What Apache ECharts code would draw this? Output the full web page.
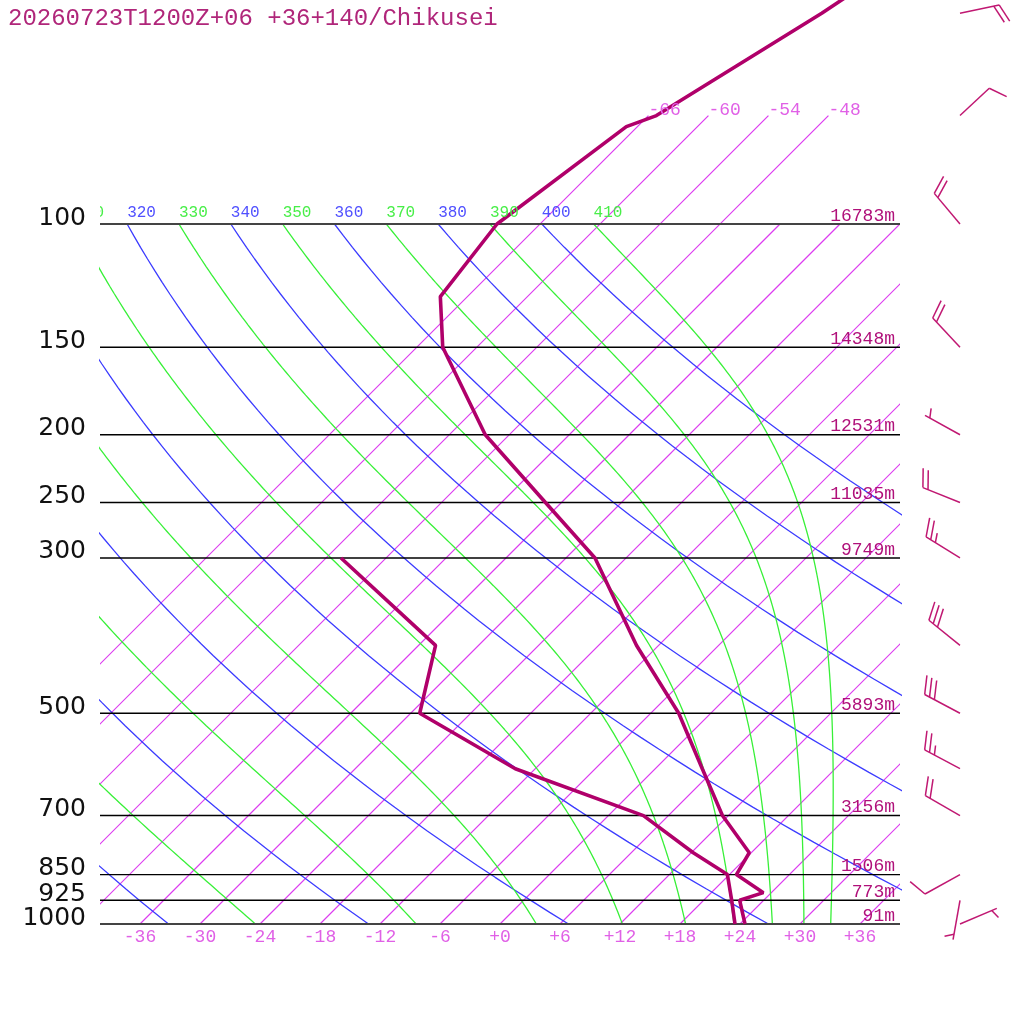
<!DOCTYPE html>
<html>
<head>
<meta charset="utf-8">
<script src="https://cdn.jsdelivr.net/npm/echarts@6/dist/echarts.min.js"></script>
<style>html,body{margin:0;padding:0;background:#fff;}#c{width:1024px;height:1024px;}</style>
</head>
<body>
<div id="c"></div>
<script>
// ---------------- data ----------------
const titleText = '20260723T1200Z+06 +36+140/Chikusei';
const pressureLevels = [1000, 925, 850, 700, 500, 300, 250, 200, 150, 100];
const pressureLabels = ['1000', '925', '850', '700', '500', '300', '250', '200', '150', '100'];
const heightLabels = ['91m', '773m', '1506m', '3156m', '5893m', '9749m', '11035m', '12531m', '14348m', '16783m'];
const isotherms = [-66, -60, -54, -48, -42, -36, -30, -24, -18, -12, -6, 0, 6, 12, 18, 24, 30, 36];
const isothermTopLabels = ['-66', '-60', '-54', '-48'];
const isothermTopValues = [-66, -60, -54, -48];
const tickValues = [-36, -30, -24, -18, -12, -6, 0, 6, 12, 18, 24, 30, 36];
const tickLabels = ['-36', '-30', '-24', '-18', '-12', '-6', '+0', '+6', '+12', '+18', '+24', '+30', '+36'];
const dryThetas = [240, 260, 280, 300, 320, 340, 360, 380, 400];
const moistThetas = [250, 270, 290, 310, 330, 350, 370, 390, 410];
const thetaLabelValues = [310, 320, 330, 340, 350, 360, 370, 380, 390, 400, 410];

const tempP = [1000, 925, 902, 850, 791, 700, 600, 500, 400, 300, 250, 200, 150, 127, 100, 72.6, 70, 50, 45];
const tempT = [24.5, 21.6, 23.2, 18.7, 17.8, 11.4, 4.7, -3.2, -14.2, -27.1, -37.6, -50.4, -63.4, -68.7, -70.3, -67.1, -65.2, -58.9, -57.3];
const dewP = [1000, 925, 850, 791, 700, 600, 500, 400, 300];
const dewT = [23.5, 20.8, 17.8, 12.2, 3.5, -14.0, -29.1, -34.3, -52.5];

const windP = [1000, 925, 850, 700, 600, 500, 400, 300, 250, 200, 150, 100, 70, 50];
const windDir = [67, 190, 241, 300, 298, 298, 309, 302, 292, 299, 317, 320, 47, 78];
const windSpd = [5, 5, 10, 20, 25, 30, 30, 25, 20, 5, 20, 20, 10, 20];

// ---------------- skew-T projection ----------------
const SKEW = 70;              // deg C per decade of pressure
const PTOP = 1000 / Math.pow(10, 924 / 700);
const X = (T, p) => T + SKEW * Math.log10(1000 / p);
const KAPPA = 0.2854;

function dryCurve(theta) {
  const out = [];
  for (let i = 0; i <= 60; i++) {
    const p = 100 * Math.pow(10, i / 60);
    const T = theta * Math.pow(p / 1000, KAPPA) - 273.15;
    out.push([X(T, p), p]);
  }
  return out;
}
function lapse(lnp, T) {
  const p = Math.exp(lnp);
  const Tc = T - 273.15;
  const es = 6.112 * Math.exp(17.67 * Tc / (Tc + 243.5));
  const rs = 0.622 * es / (p - es);
  const Lv = 2.501e6;
  return (287.04 * T + Lv * rs) / (1005.7 + Lv * Lv * rs * 0.622 / (287.04 * T * T));
}
function moistCurve(theta) {
  let T = theta * Math.pow(0.1, KAPPA);
  const n = 180, a = Math.log(100), b = Math.log(1000), h = (b - a) / n;
  const out = [[X(T - 273.15, 100), 100]];
  let x = a;
  for (let i = 0; i < n; i++) {
    const k1 = lapse(x, T), k2 = lapse(x + h / 2, T + h / 2 * k1);
    const k3 = lapse(x + h / 2, T + h / 2 * k2), k4 = lapse(x + h, T + h * k3);
    T += h / 6 * (k1 + 2 * k2 + 2 * k3 + k4);
    x += h;
    const p = Math.exp(x);
    out.push([X(T - 273.15, p), p]);
  }
  return out;
}

const C_ISO = '#dc3cf0', C_BLUE = '#3c3cff', C_GREEN = '#38f038';
const C_PROF = '#b0006a', C_TXT = '#b0107a';
const MONO = '"Liberation Mono", "DejaVu Sans Mono", monospace';

const series = [];
function addLine(data, color, width, z) {
  series.push({
    type: 'line', data: data, showSymbol: false, symbol: 'none', silent: true,
    clip: true, z: z || 2, animation: false, color: color,
    itemStyle: { color: color },
    lineStyle: { color: color, width: width }
  });
}

// isotherms (custom series, straight segments in skewed space)
series.push({
  type: 'custom', clip: true, silent: true, animation: false, z: 2,
  encode: { x: 0, y: 1 },
  data: isotherms.map(T => {
    const top = isothermTopValues.indexOf(T) >= 0 ? 70 : 100;
    return [X(T, 1000), 1000, X(T, top), top];
  }),
  renderItem: function (params, api) {
    const a = api.coord([api.value(0), api.value(1)]);
    const b = api.coord([api.value(2), api.value(3)]);
    return { type: 'line', shape: { x1: a[0], y1: a[1], x2: b[0], y2: b[1] },
      style: { stroke: C_ISO, lineWidth: 1.2, fill: null } };
  }
});
// dry adiabats
dryThetas.forEach(th => addLine(dryCurve(th), C_BLUE, 1.3, 2));
// moist adiabats
moistThetas.forEach(th => addLine(moistCurve(th), C_GREEN, 1.3, 2));
// isobars
pressureLevels.forEach(p => addLine([[-40, p], [40, p]], (p === 1000 || p === 100) ? '#444' : '#000', (p === 1000 || p === 100) ? 1.8 : 1.4, 3));
// profiles
addLine(dewP.map((p, i) => [X(dewT[i], p), p]), C_PROF, 3.6, 10);
addLine(tempP.map((p, i) => [X(tempT[i], p), p]), C_PROF, 3.6, 10);

// labels
const clippedLabels = [];
thetaLabelValues.forEach((th, i) => {
  const T = th * Math.pow(0.1, KAPPA) - 273.15;
  clippedLabels.push({ x: X(T, 100), p: 100, dx: 0, dy: -11, text: String(th),
    color: (th % 20 === 0) ? '#5050ff' : '#48ee48', size: 16, align: 'left', font: MONO });
});
const freeLabels = [];
isothermTopValues.forEach((T, i) => {
  freeLabels.push({ x: X(T, 70), p: 70, dx: 0, dy: -5, text: isothermTopLabels[i],
    color: '#e060e6', size: 18, align: 'left', font: MONO });
});
tickValues.forEach((T, i) => {
  freeLabels.push({ x: X(T, 1000), p: 1000, dx: 0, dy: 13, text: tickLabels[i],
    color: '#e060e6', size: 18, align: 'center', font: MONO });
});
pressureLevels.forEach((p, i) => {
  freeLabels.push({ x: -40, p: p, dx: -14, dy: -6, text: pressureLabels[i],
    color: '#111', size: 25, align: 'right', font: '"DejaVu Sans", sans-serif' });
  freeLabels.push({ x: 40, p: p, dx: -5, dy: -8, text: heightLabels[i],
    color: C_TXT, size: 18, align: 'right', font: MONO });
});

function labelSeries(list, clip) {
  return {
    type: 'custom', clip: clip, silent: true, animation: false, z: 12,
    encode: { x: 0, y: 1 },
    data: list.map(d => [d.x, d.p]),
    renderItem: function (params, api) {
      const d = list[params.dataIndex];
      const pt = api.coord([api.value(0), api.value(1)]);
      return {
        type: 'text', x: pt[0] + d.dx, y: pt[1] + d.dy,
        style: { text: d.text, fill: d.color, fontSize: d.size, fontFamily: d.font,
          align: d.align, verticalAlign: 'middle' }
      };
    }
  };
}
series.push(labelSeries(clippedLabels, true));
series.push(labelSeries(freeLabels, false));

// wind barbs
series.push({
  type: 'custom', clip: false, silent: true, animation: false, z: 12,
  encode: { x: 0, y: 1 },
  data: windP.map((p, i) => [46, p, windDir[i], windSpd[i]]),
  renderItem: function (params, api) {
    const pt = api.coord([api.value(0), api.value(1)]);
    const dir = api.value(2) * Math.PI / 180, spd = api.value(3);
    const u = [Math.sin(dir), -Math.cos(dir)];
    const n = [-u[1], u[0]];
    const L = 40, step = 5.5;
    const tip = [pt[0] + u[0] * L, pt[1] + u[1] * L];
    const st = { stroke: '#c01872', lineWidth: 1.5 };
    const children = [{ type: 'line', shape: { x1: pt[0], y1: pt[1], x2: tip[0], y2: tip[1] }, style: st }];
    let full = Math.floor(spd / 10), half = (spd % 10) >= 5 ? 1 : 0;
    let pos = 0;
    if (full === 0 && half) pos = 1;
    for (let k = 0; k < full + half; k++) {
      const isHalf = k >= full;
      const d = L - pos * step;
      const b = [pt[0] + u[0] * d, pt[1] + u[1] * d];
      const fl = isHalf ? 0.5 : 1;
      const e = [b[0] + (18 * n[0] + 7 * u[0]) * fl, b[1] + (18 * n[1] + 7 * u[1]) * fl];
      children.push({ type: 'line', shape: { x1: b[0], y1: b[1], x2: e[0], y2: e[1] }, style: st });
      pos++;
    }
    return { type: 'group', children: children };
  }
});

const chart = echarts.init(document.getElementById('c'), null, { renderer: 'canvas' });
chart.setOption({
  backgroundColor: '#fff',
  animation: false,
  title: { text: titleText, left: 3, top: 2,
    textStyle: { fontFamily: MONO, fontSize: 24, fontWeight: 'normal', color: '#b0267a' } },
  grid: { left: 100, right: 124, top: 0, bottom: 100 },
  xAxis: { type: 'value', min: -40, max: 40, show: false },
  yAxis: { type: 'log', logBase: 10, min: PTOP, max: 1000, inverse: true, show: false },
  series: series
});
</script>
</body>
</html>
